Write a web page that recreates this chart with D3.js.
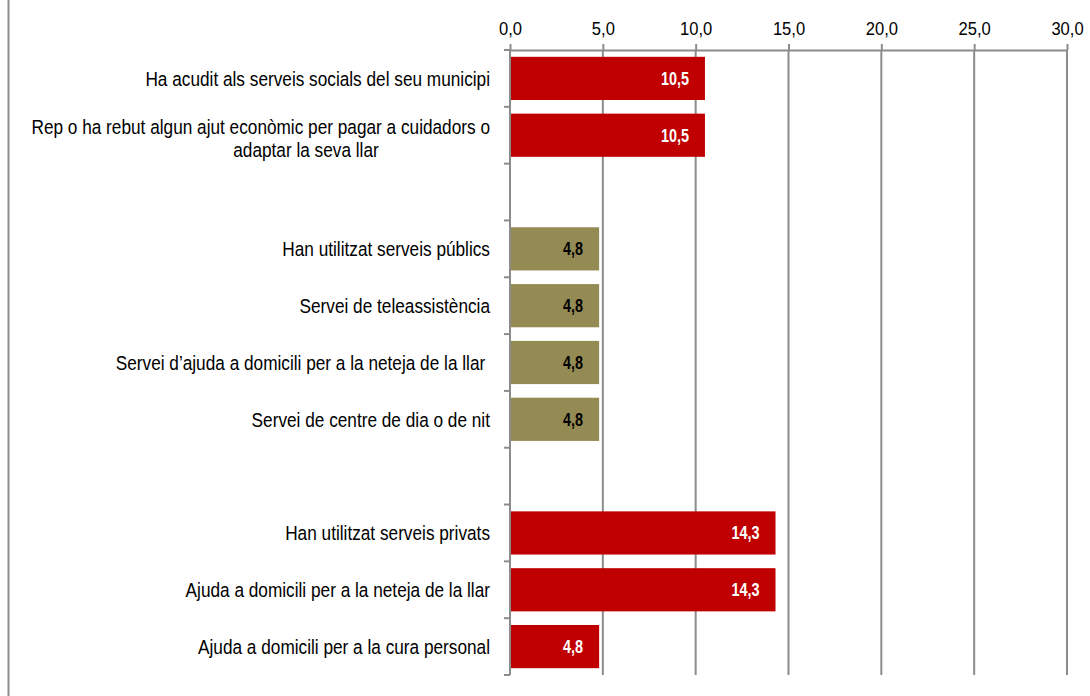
<!DOCTYPE html>
<html>
<head>
<meta charset="utf-8">
<script src="https://cdn.jsdelivr.net/npm/d3@7"></script>
<style>
  body { margin: 0; background: #fff; }
  svg { display: block; }
  text { font-family: "Liberation Sans", Arial, sans-serif; }
</style>
</head>
<body>
<div id="chart"></div>
<script>
// Rows of the chart, top to bottom ("" = empty spacer row)
var labels = [
    ["Ha acudit als serveis socials del seu municipi"],
    ["Rep o ha rebut algun ajut econòmic per pagar a cuidadors o", "adaptar la seva llar"],
    [""],
    ["Han utilitzat serveis públics"],
    ["Servei de teleassistència"],
    ["Servei d\u2019ajuda a domicili per a la neteja de la llar\u00a0"],
    ["Servei de centre de dia o de nit"],
    [""],
    ["Han utilitzat serveis privats"],
    ["Ajuda a domicili per a la neteja de la llar"],
    ["Ajuda a domicili per a la cura personal"]
];
var values = [10.5, 10.5, null, 4.8, 4.8, 4.8, 4.8, null, 14.3, 14.3, 4.8];
var groups = ["red", "red", null, "olive", "olive", "olive", "olive", null, "red", "red", "red"];
var xTicks = [0, 5, 10, 15, 20, 25, 30];

var colors = { red: "#c00000", olive: "#948a54" };
var valueColors = { red: "#ffffff", olive: "#000000" };

var svgWidth = 1090;
var svgHeight = 696;

// narrow the text horizontally (the original uses a condensed face)
function squeeze(sel, k) {
    sel.each(function() {
        var w = this.getComputedTextLength();
        d3.select(this)
            .attr("textLength", w * k)
            .attr("lengthAdjust", "spacingAndGlyphs");
    });
}

var svg = d3.select("#chart")
    .append("svg")
    .attr("width", svgWidth)
    .attr("height", svgHeight);

// outer frame line on the left
svg.append("line")
    .attr("x1", 8.5).attr("x2", 8.5)
    .attr("y1", 0).attr("y2", svgHeight)
    .attr("stroke", "#8c8c8c")
    .attr("stroke-width", 2);

var xScale = d3.scaleLinear()
    .domain([0, 30])
    .range([510, 1067]);

var rows = d3.range(values.length);
var yScale = d3.scaleBand()
    .domain(rows)
    .range([50, 675])
    .paddingInner(0.24)
    .paddingOuter(0.12);

var step = yScale.step();
var yTop = yScale.range()[0];
var yBottom = yScale.range()[1];

// vertical gridlines
svg.append("g")
    .selectAll("line")
    .data(xTicks.slice(1))
    .enter()
    .append("line")
        .attr("x1", d => xScale(d))
        .attr("x2", d => xScale(d))
        .attr("y1", yTop)
        .attr("y2", yBottom)
        .attr("stroke", "#8c8c8c")
        .attr("stroke-width", 2);

// top axis
var topAxis = d3.axisTop(xScale)
    .tickValues(xTicks)
    .tickSizeOuter(0)
    .tickSizeInner(6)
    .tickPadding(9)
    .tickFormat(d => d3.format(".1f")(d).replace(".", ","));

var axisG = svg.append("g")
    .attr("transform", `translate(0, ${yTop})`)
    .call(topAxis);

axisG.select(".domain").attr("stroke", "#8c8c8c").attr("stroke-width", 2);
axisG.selectAll(".tick line").attr("stroke", "#8c8c8c").attr("stroke-width", 2);
axisG.selectAll(".tick text")
    .attr("fill", "#000")
    .style("font-size", "18px")
    .style("font-family", "'Liberation Sans', Arial, sans-serif")
    .call(squeeze, 0.92);

// left axis line with ticks at row boundaries
svg.append("line")
    .attr("x1", xScale(0)).attr("x2", xScale(0))
    .attr("y1", yTop).attr("y2", yBottom)
    .attr("stroke", "#8c8c8c")
    .attr("stroke-width", 2);

svg.append("g")
    .selectAll("line")
    .data(d3.range(values.length + 1))
    .enter()
    .append("line")
        .attr("x1", xScale(0) - 6)
        .attr("x2", xScale(0))
        .attr("y1", i => yTop + i * step)
        .attr("y2", i => yTop + i * step)
        .attr("stroke", "#8c8c8c")
        .attr("stroke-width", 2);

// bars
var barData = rows.filter(i => values[i] !== null);

svg.append("g")
    .selectAll("rect")
    .data(barData)
    .enter()
    .append("rect")
        .attr("x", xScale(0) + 1)
        .attr("y", i => yScale(i))
        .attr("width", i => xScale(values[i]) - xScale(0) - 1)
        .attr("height", yScale.bandwidth())
        .attr("fill", i => colors[groups[i]]);

// value labels inside the bar ends
svg.append("g")
    .selectAll("text")
    .data(barData)
    .enter()
    .append("text")
        .attr("x", i => xScale(values[i]) - 16)
        .attr("y", i => yScale(i) + yScale.bandwidth() / 2)
        .attr("dy", "0.36em")
        .attr("text-anchor", "end")
        .attr("fill", i => valueColors[groups[i]])
        .style("font-size", "18px")
        .style("font-weight", "bold")
        .text(i => d3.format(".1f")(values[i]).replace(".", ","))
        .call(squeeze, 0.8);

// category labels
var labelG = svg.append("g");
var lineH = 23;
rows.forEach(function(i) {
    var lines = labels[i];
    var cy = yScale(i) + yScale.bandwidth() / 2;
    if (lines.length === 1) {
        labelG.append("text")
            .attr("x", 490).attr("y", cy).attr("dy", "0.36em")
            .attr("text-anchor", "end")
            .text(lines[0]);
    } else {
        // wrapped label sits slightly low in its row
        labelG.append("text")
            .attr("x", 490).attr("y", cy + 2.5 - lineH / 2).attr("dy", "0.36em")
            .attr("text-anchor", "end")
            .text(lines[0]);
        labelG.append("text")
            .attr("x", 306).attr("y", cy + 2.5 + lineH / 2).attr("dy", "0.36em")
            .attr("text-anchor", "middle")
            .text(lines[1]);
    }
});

labelG.selectAll("text")
    .attr("fill", "#000")
    .style("font-size", "20.5px")
    .style("white-space", "pre")
    .call(squeeze, 0.84);
</script>
</body>
</html>
